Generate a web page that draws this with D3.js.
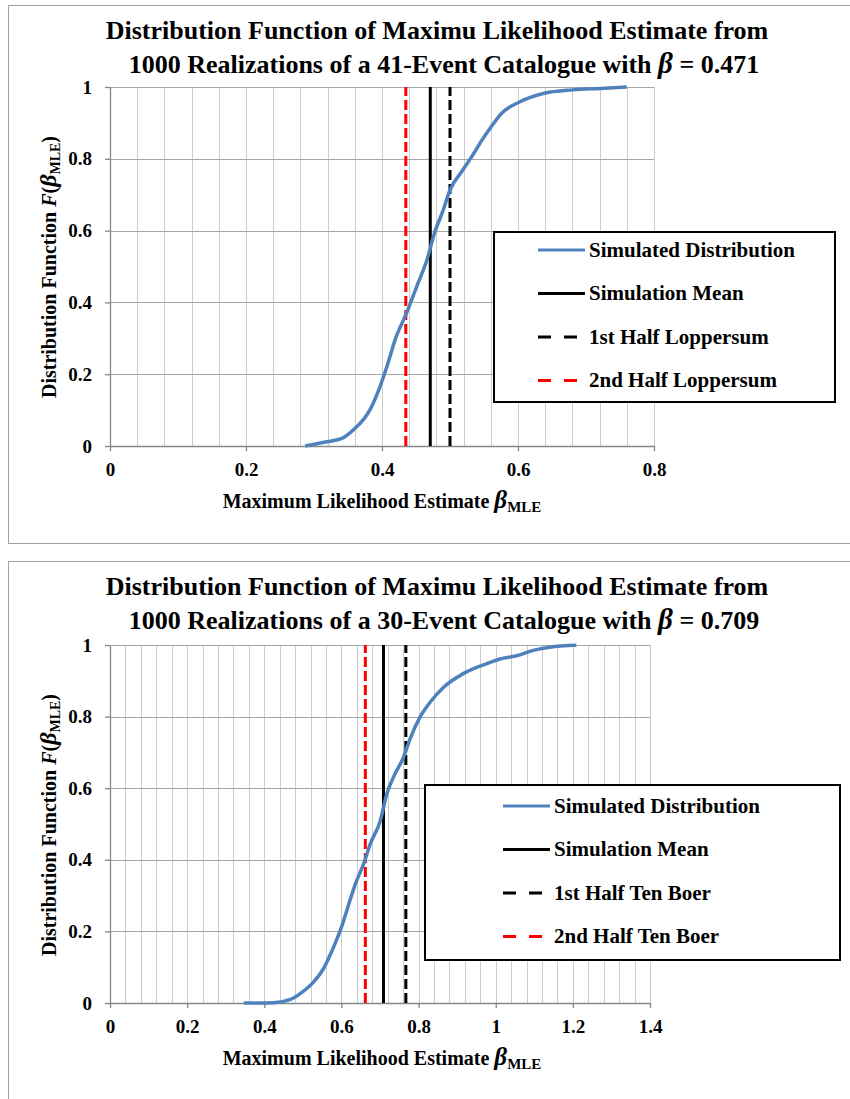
<!DOCTYPE html>
<html lang="en">
<head>
<meta charset="UTF-8" />
<title>Distribution Function of MLE</title>
<script src="https://cdnjs.cloudflare.com/ajax/libs/d3/7.8.5/d3.min.js"></script>
<style>
  body { margin: 0; background: #fff; }
  .grid-h { stroke: #a6a6a6; stroke-width: 1; }
  .grid-v { stroke: #cccccc; stroke-width: 1; }
  .axis path, .axis line { stroke: #868686; stroke-width: 1.3; }
  .axis text { fill: #000; }
</style>
</head>
<body>
<svg width="850" height="1099"></svg>
<script>
// top chart: 41-event catalogue
const topBeta = [0.287, 0.319, 0.341, 0.358, 0.382, 0.397, 0.407, 0.420, 0.436, 0.451, 0.466, 0.477,
  0.490, 0.500, 0.517, 0.532, 0.547, 0.559, 0.576, 0.603, 0.637, 0.681, 0.721, 0.760];
const topF = [0, 0.012, 0.021, 0.045, 0.10, 0.165, 0.22, 0.30, 0.37, 0.444, 0.518, 0.592,
  0.657, 0.713, 0.764, 0.806, 0.852, 0.885, 0.927, 0.959, 0.982, 0.992, 0.996, 1.0];
const topMean = 0.471, topFirstHalf = 0.500, topSecondHalf = 0.435;
const topXTicks = [0, 0.2, 0.4, 0.6, 0.8];
const topTitle = ["Distribution Function of  Maximu Likelihood Estimate from",
  "1000 Realizations of  a 41-Event Catalogue with "];
const topBetaLabel = "0.471";
const topLegend = ["Simulated Distribution", "Simulation Mean", "1st Half Loppersum", "2nd Half Loppersum"];

// bottom chart: 30-event catalogue
const botBeta = [0.347, 0.425, 0.468, 0.494, 0.528, 0.554, 0.58, 0.602, 0.617, 0.636, 0.658, 0.675,
  0.701, 0.718, 0.735, 0.761, 0.778, 0.804, 0.83, 0.865, 0.916, 0.977, 1.011, 1.054, 1.097, 1.14, 1.209];
const botF = [0, 0.001, 0.01, 0.027, 0.059, 0.097, 0.157, 0.218, 0.269, 0.332, 0.39, 0.445,
  0.51, 0.585, 0.631, 0.687, 0.738, 0.799, 0.84, 0.882, 0.92, 0.948, 0.961, 0.97, 0.985, 0.994, 0.999];
const botMean = 0.709, botFirstHalf = 0.767, botSecondHalf = 0.662;
const botXTicks = [0, 0.2, 0.4, 0.6, 0.8, 1, 1.2, 1.4];
const botTitle = ["Distribution Function of  Maximu Likelihood Estimate from",
  "1000 Realizations of  a 30-Event Catalogue with "];
const botBetaLabel = "0.709";
const botLegend = ["Simulated Distribution", "Simulation Mean", "1st Half Ten Boer", "2nd Half Ten Boer"];

const yTicks = [0, 0.2, 0.4, 0.6, 0.8, 1];

const SERIF = "Liberation Serif, DejaVu Serif, serif";
const svg = d3.select("svg")
  .attr("font-family", SERIF)
  .attr("font-weight", "bold");
const BLUE = "#4f81bd";

function drawPanel(p) {
  const g = svg.append("g").attr("transform", `translate(0,${p.top})`);

  // outer chart border
  g.append("rect")
    .attr("x", 8.5).attr("y", 0.5)
    .attr("width", 900).attr("height", p.boxH)
    .attr("fill", "none").attr("stroke", "#a0a0a0");

  const x = d3.scaleLinear().domain([0, p.xMax]).range([110, p.xRight]);
  const y = d3.scaleLinear().domain([0, 1]).range([p.y0, p.y1]);

  // minor vertical gridlines every 0.04
  g.append("g").selectAll("line")
    .data(d3.range(1, Math.round(p.xMax / 0.04) + 1).map(i => i * 0.04))
    .join("line")
    .attr("class", "grid-v")
    .attr("x1", d => Math.round(x(d)) + 0.5).attr("x2", d => Math.round(x(d)) + 0.5)
    .attr("y1", y(0)).attr("y2", y(1));

  // horizontal gridlines
  g.append("g").selectAll("line")
    .data(yTicks.slice(1))
    .join("line")
    .attr("class", "grid-h")
    .attr("x1", x(0)).attr("x2", x(p.xMax))
    .attr("y1", d => Math.round(y(d)) + 0.5).attr("y2", d => Math.round(y(d)) + 0.5);

  // axes
  const fmt = d => String(+d.toFixed(1));
  const xa = g.append("g").attr("class", "axis")
    .attr("transform", `translate(0,${y(0)})`)
    .call(d3.axisBottom(x).tickValues(p.xTicks).tickSize(5).tickPadding(12).tickSizeOuter(0).tickFormat(fmt));
  const ya = g.append("g").attr("class", "axis")
    .attr("transform", `translate(${x(0)},0)`)
    .call(d3.axisLeft(y).tickValues(yTicks).tickSize(5).tickPadding(13).tickSizeOuter(0).tickFormat(fmt));
  [xa, ya].forEach(a => a.attr("font-family", SERIF).attr("font-size", 19));

  // reference lines
  const refs = [
    { v: p.second, color: "#ff0000", dash: "10,4" },
    { v: p.mean, color: "#000", dash: null },
    { v: p.first, color: "#000", dash: "10,4" }
  ];
  g.append("g").selectAll("line")
    .data(refs)
    .join("line")
    .attr("x1", d => x(d.v)).attr("x2", d => x(d.v))
    .attr("y1", y(0)).attr("y2", y(1))
    .attr("stroke", d => d.color)
    .attr("stroke-width", 3)
    .attr("stroke-dasharray", d => d.dash);

  // simulated distribution
  const line = d3.line().curve(d3.curveMonotoneX).x(d => x(d[0])).y(d => y(d[1]));
  g.append("path")
    .datum(d3.zip(p.beta, p.F))
    .attr("fill", "none")
    .attr("stroke", BLUE)
    .attr("stroke-width", 3.5)
    .attr("stroke-linejoin", "round")
    .attr("d", line);

  // title
  const title = g.append("g").attr("font-size", 26).attr("text-anchor", "middle");
  title.append("text").attr("x", 437).attr("y", 34).text(p.title[0]);
  const t2 = title.append("text").attr("x", 444).attr("y", 68);
  t2.append("tspan").text(p.title[1]);
  t2.append("tspan").attr("font-style", "italic").attr("font-size", 29).text("\u03b2");
  t2.append("tspan").text(" = " + p.betaLabel);

  // y axis label
  const yl = g.append("text")
    .attr("transform", `translate(56,${p.yLabelC}) rotate(-90)`)
    .attr("text-anchor", "middle")
    .attr("font-size", 20);
  yl.append("tspan").text("Distribution Function ");
  yl.append("tspan").attr("font-style", "italic").text("F");
  yl.append("tspan").text("(");
  yl.append("tspan").attr("font-style", "italic").attr("font-size", 24).text("\u03b2");
  yl.append("tspan").attr("font-size", 14).attr("dy", 4).text("MLE");
  yl.append("tspan").attr("dy", -4).text(")");

  // x axis label
  const xl = g.append("text")
    .attr("x", 382).attr("y", y(0) + 62)
    .attr("text-anchor", "middle")
    .attr("font-size", 20);
  xl.append("tspan").text("Maximum Likelihood Estimate ");
  xl.append("tspan").attr("font-style", "italic").attr("font-size", 25).text("\u03b2");
  xl.append("tspan").attr("font-size", 15).attr("dy", 4).text("MLE");

  // legend
  const lg = g.append("g");
  lg.append("rect")
    .attr("x", p.leg.x).attr("y", p.leg.y)
    .attr("width", p.leg.w).attr("height", p.leg.h)
    .attr("fill", "#fff").attr("stroke", "#000").attr("stroke-width", 2);
  const styles = [
    { color: BLUE, dash: null },
    { color: "#000", dash: null },
    { color: "#000", dash: "13,13" },
    { color: "#ff0000", dash: "13,13" }
  ];
  const rows = lg.selectAll("g.row")
    .data(p.legend)
    .join("g")
    .attr("class", "row")
    .attr("transform", (d, i) => `translate(${p.leg.x},${p.leg.y + p.leg.first + i * 43.5})`);
  rows.append("line")
    .attr("x1", p.leg.inset).attr("x2", p.leg.inset + 47)
    .attr("stroke", (d, i) => styles[i].color)
    .attr("stroke-width", 3)
    .attr("stroke-dasharray", (d, i) => styles[i].dash);
  rows.append("text")
    .attr("x", p.leg.inset + 51).attr("dy", "0.33em")
    .attr("font-size", 21)
    .text(d => d);
}

drawPanel({
  top: 5, boxH: 538,
  xMax: 0.8, xRight: 654, y0: 441, y1: 82,
  xTicks: topXTicks,
  beta: topBeta, F: topF,
  mean: topMean, first: topFirstHalf, second: topSecondHalf,
  title: topTitle, betaLabel: topBetaLabel,
  legend: topLegend,
  yLabelC: 262,
  leg: { x: 494, y: 227, w: 341, h: 170, inset: 44, first: 18 }
});

drawPanel({
  top: 561, boxH: 600,
  xMax: 1.4, xRight: 650, y0: 442, y1: 84,
  xTicks: botXTicks,
  beta: botBeta, F: botF,
  mean: botMean, first: botFirstHalf, second: botSecondHalf,
  title: botTitle, betaLabel: botBetaLabel,
  legend: botLegend,
  yLabelC: 264,
  leg: { x: 425, y: 224, w: 415, h: 175, inset: 78, first: 21 }
});
</script>
</body>
</html>
